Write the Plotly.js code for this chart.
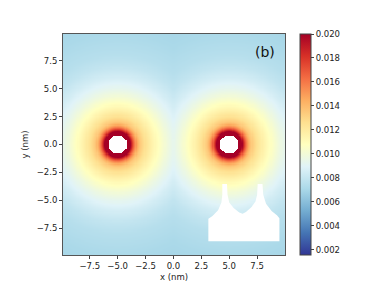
<!DOCTYPE html>
<html><head><meta charset="utf-8">
<script src="https://cdn.plot.ly/plotly-3.0.1.min.js"></script>
<style>html,body{margin:0;padding:0;background:#fff}#plot{width:382px;height:287px}</style>
</head><body><div id="plot"></div>
<script>
// Spot centres (nm)
const spotX = [-5.0, 5.0];
const spotY = [0.0, 0.0];
const holeRadius = 0.85;
// Radial profile: distance from a spot centre (nm) -> value
const profR = [0.85, 1.0, 1.2, 1.4, 1.6, 1.8, 2.0, 2.5, 3.0, 3.5, 4.0, 4.5, 5.0, 6.0, 7.0, 8.0, 10.0, 14.0];
const profZ = [0.024, 0.0215, 0.0195, 0.0172, 0.0155, 0.0143, 0.0135, 0.0125, 0.0117, 0.0110, 0.0104, 0.0098, 0.0093, 0.0085, 0.0079, 0.0075, 0.0071, 0.0067];
// Colour bar
const zMin = 0.00156, zMax = 0.020;
const cbTicks = [0.002, 0.004, 0.006, 0.008, 0.010, 0.012, 0.014, 0.016, 0.018, 0.020];
const axTicks = [-7.5, -5.0, -2.5, 0.0, 2.5, 5.0, 7.5];
// White inset silhouette outline (nm)
const insetX = [3.13, 3.13, 3.5, 4.0, 4.3, 4.38, 4.38, 4.8, 4.85, 5.0, 5.4, 5.9, 6.2, 6.5, 7.0, 7.35, 7.5, 7.55, 7.98, 8.05, 8.3, 8.8, 9.3, 9.5, 9.5];
const insetY = [-8.66, -6.65, -6.4, -5.9, -5.2, -4.5, -3.55, -3.55, -4.5, -5.2, -5.7, -6.1, -6.2, -6.05, -5.6, -5.1, -4.5, -3.55, -3.55, -4.5, -5.3, -5.95, -6.35, -6.6, -8.66];

function prof(r){
  if (r <= profR[0]) return profZ[0];
  for (let i=1;i<profR.length;i++){
    if (r <= profR[i]){
      const t=(r-profR[i-1])/(profR[i]-profR[i-1]);
      return profZ[i-1]+t*(profZ[i]-profZ[i-1]);
    }
  }
  return profZ[profZ.length-1];
}
const xs=[], ys=[];
for (let i=0;i<200;i++) xs.push(-9.85+0.1*i);
for (let j=0;j<198;j++) ys.push(-9.85+0.1*j);
const z = ys.map(y => xs.map(x => {
  let best = -Infinity;
  for (let k=0;k<spotX.length;k++){
    const r = Math.hypot(x-spotX[k], y-spotY[k]);
    if (r < holeRadius) return null;
    best = Math.max(best, prof(r));
  }
  return best;
}));

const cs = [[0,'#313695'],[0.1,'#4575b4'],[0.2,'#74add1'],[0.3,'#abd9e9'],[0.4,'#e0f3f8'],[0.5,'#ffffbf'],[0.6,'#fee090'],[0.7,'#fdae61'],[0.8,'#f46d43'],[0.9,'#d73027'],[1,'#a50026']];

let path = 'M' + insetX.map((x,i)=>x+','+insetY[i]).join(' L') + ' Z';

const font = {family:'DejaVu Sans', size:8.5, color:'#222'};
Plotly.newPlot('plot', [{
  type:'heatmap', x:xs, y:ys, z:z, zmin:zMin, zmax:zMax, colorscale:cs,
  hoverinfo:'skip',
  colorbar:{x:1.0676, xanchor:'left', y:0.5, yanchor:'middle', len:1, lenmode:'fraction',
    thickness:11, xpad:0, ypad:0, outlinewidth:1, outlinecolor:'#444',
    tickvals:cbTicks, tickformat:'.3f', ticks:'outside', ticklen:3, tickcolor:'#444', tickfont:font}
}], {
  width:382, height:287,
  margin:{l:63, r:97, t:34, b:32, pad:0},
  paper_bgcolor:'#fff', plot_bgcolor:'#fff',
  font:font,
  xaxis:{range:[-9.9,10.0], tickvals:axTicks, tickformat:'.1f', ticks:'outside', ticklen:3, tickcolor:'#444',
    showgrid:false, zeroline:false, showline:true, linecolor:'#555', mirror:true,
    title:{text:'x (nm)', font:font, standoff:3}},
  yaxis:{range:[-9.9,9.9], tickvals:axTicks, tickformat:'.1f', ticks:'outside', ticklen:3, tickcolor:'#444',
    showgrid:false, zeroline:false, showline:true, linecolor:'#555', mirror:true,
    title:{text:'y (nm)', font:font, standoff:6}},
  shapes:[{type:'path', xref:'x', yref:'y', path:path, fillcolor:'#fff', line:{width:0}}],
  annotations:[{text:'(b)', xref:'paper', yref:'paper', x:0.91, y:0.92, xanchor:'center', yanchor:'middle',
    showarrow:false, font:{family:'DejaVu Sans', size:14, color:'#111'}}]
}, {displayModeBar:false, staticPlot:true});
</script></body></html>
